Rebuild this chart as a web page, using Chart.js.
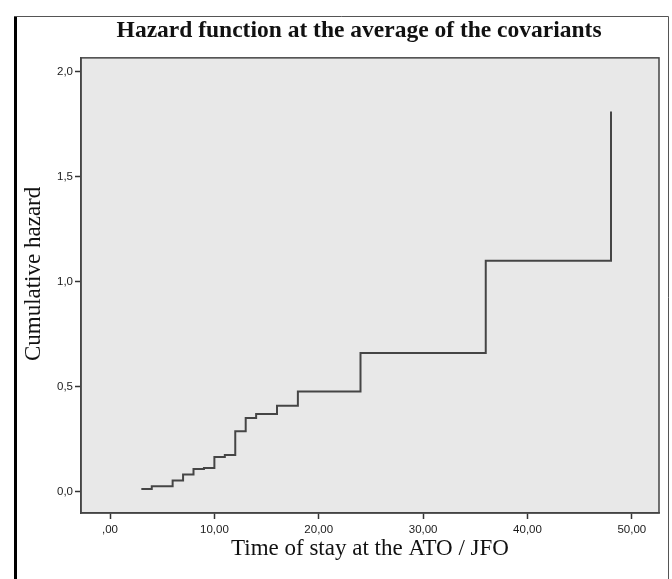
<!DOCTYPE html>
<html>
<head>
<meta charset="utf-8">
<script src="https://cdn.jsdelivr.net/npm/chart.js@4.4.1/dist/chart.umd.min.js"></script>
<style>
    html, body { margin: 0; padding: 0; background: #ffffff; }
    #wrap { width: 672px; height: 579px; position: relative; }
</style>
</head>
<body>
<div id="wrap"><canvas id="hazard-chart"></canvas></div>
<script>
// Step points of the cumulative hazard (time in months, hazard)
const times  = [3, 4, 6, 7, 8, 9, 10, 11, 12, 13, 14, 16, 18, 24, 36, 48];
const hazard = [0.011, 0.024, 0.052, 0.080, 0.107, 0.111, 0.164, 0.173, 0.286, 0.350, 0.369, 0.408, 0.476, 0.659, 1.099, 1.810];

const xTicks = [0, 10, 20, 30, 40, 50];
const xTickLabels = [',00', '10,00', '20,00', '30,00', '40,00', '50,00'];
const yTicks = [0, 0.5, 1, 1.5, 2];
const yTickLabels = ['0,0', '0,5', '1,0', '1,5', '2,0'];

document.addEventListener('DOMContentLoaded', function() {
    const ctx = document.getElementById('hazard-chart').getContext('2d');

    // white page, outer frame, grey plot panel
    const framePlugin = {
        id: 'frame',
        beforeDraw(chart) {
            const c = chart.ctx;
            const a = chart.chartArea;
            c.save();
            c.fillStyle = '#ffffff';
            c.fillRect(0, 0, chart.width, chart.height);
            c.fillStyle = '#e8e8e8';
            c.fillRect(a.left, a.top, a.right - a.left, a.bottom - a.top);
            c.restore();
        },
        afterDraw(chart) {
            const c = chart.ctx;
            const a = chart.chartArea;
            c.save();
            c.strokeStyle = '#444444';
            c.lineWidth = 1.5;
            c.strokeRect(a.left, a.top, a.right - a.left, a.bottom - a.top);
            // outer frame of the figure
            c.fillStyle = '#000000';
            c.fillRect(14, 16, 3, chart.height - 16);
            c.strokeStyle = '#555555';
            c.lineWidth = 1;
            c.beginPath();
            c.moveTo(14, 16.5);
            c.lineTo(668.5, 16.5);
            c.lineTo(668.5, chart.height);
            c.stroke();
            c.restore();
        }
    };

    const hazardChart = new Chart(ctx, {
        type: 'line',
        data: {
            datasets: [{
                data: times.map((t, i) => ({ x: t, y: hazard[i] })),
                borderColor: '#454545',
                borderWidth: 2,
                stepped: 'before',
                pointRadius: 0,
                fill: false
            }]
        },
        options: {
            responsive: true,
            maintainAspectRatio: false,
            animation: false,
            layout: {
                padding: { left: 18, right: 13, top: 0, bottom: 0 }
            },
            plugins: {
                legend: { display: false },
                tooltip: { enabled: false },
                title: {
                    display: true,
                    // leading spaces push the title a bit to the right, like the original
                    text: '       Hazard function at the average of the covariants',
                    color: '#111111',
                    font: { family: 'Liberation Serif', size: 23.5, weight: 'bold', lineHeight: 1.1 },
                    padding: { top: 18, bottom: 14 }
                }
            },
            scales: {
                x: {
                    type: 'linear',
                    min: -2.78,
                    max: 52.6,
                    afterBuildTicks: function(scale) {
                        scale.ticks = xTicks.map(v => ({ value: v }));
                    },
                    afterFit: function(scale) {
                        scale.height = 66;
                    },
                    ticks: {
                        color: '#1a1a1a',
                        font: { family: 'Liberation Sans', size: 11.5 },
                        padding: 4,
                        maxRotation: 0,
                        callback: function(value) {
                            return xTickLabels[xTicks.indexOf(value)];
                        }
                    },
                    grid: {
                        drawOnChartArea: false,
                        drawTicks: true,
                        tickLength: 6,
                        tickColor: '#333333',
                        tickWidth: 1.5
                    },
                    border: { display: true, color: '#444444', width: 1.5 },
                    title: {
                        display: true,
                        text: 'Time of stay at the ATO / JFO',
                        color: '#111111',
                        font: { family: 'Liberation Serif', size: 23 },
                        padding: { top: 2, bottom: 16 }
                    }
                },
                y: {
                    type: 'linear',
                    min: -0.103,
                    max: 2.065,
                    afterBuildTicks: function(scale) {
                        scale.ticks = yTicks.map(v => ({ value: v }));
                    },
                    afterFit: function(scale) {
                        scale.width = 63;
                    },
                    ticks: {
                        color: '#1a1a1a',
                        font: { family: 'Liberation Sans', size: 11.5 },
                        padding: 2,
                        callback: function(value) {
                            return yTickLabels[yTicks.indexOf(value)];
                        }
                    },
                    grid: {
                        drawOnChartArea: false,
                        drawTicks: true,
                        tickLength: 6,
                        tickColor: '#333333',
                        tickWidth: 1.5
                    },
                    border: { display: true, color: '#444444', width: 1.5 },
                    title: {
                        display: true,
                        // leading spaces nudge the rotated label up a little, as in the original
                        text: '    Cumulative hazard',
                        color: '#111111',
                        font: { family: 'Liberation Serif', size: 23 },
                        padding: { top: 2, bottom: 2 }
                    }
                }
            }
        },
        plugins: [framePlugin]
    });
});
</script>
</body>
</html>
